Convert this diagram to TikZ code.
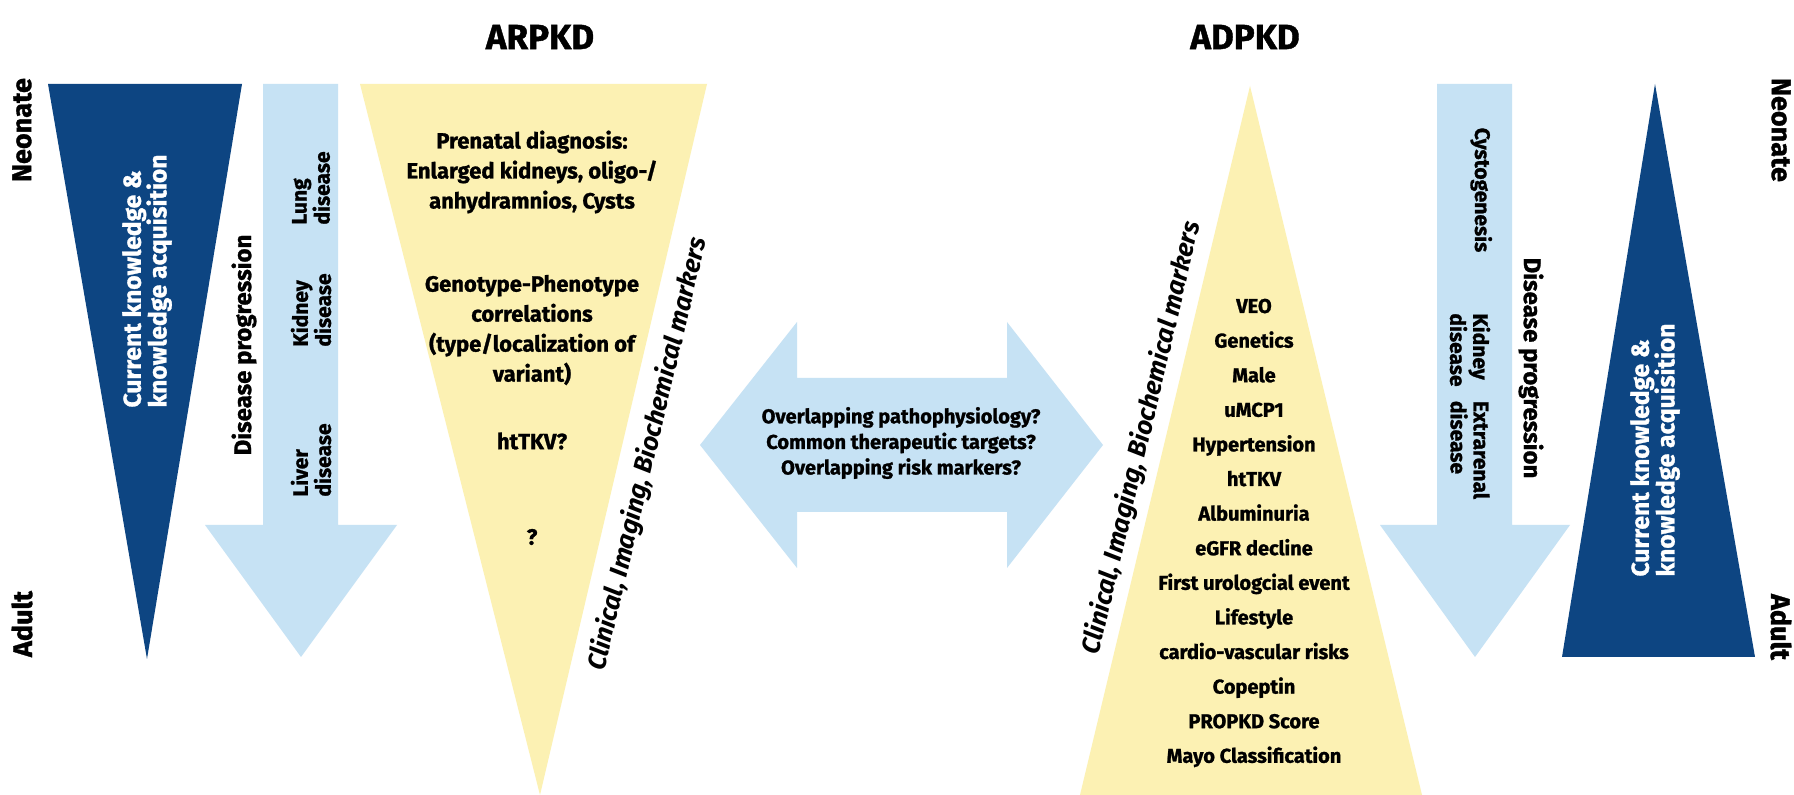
\documentclass[tikz,border=0pt]{standalone}
\usepackage{fontspec}
\setmainfont{Fira Sans}[BoldFeatures={FakeBold=1.2}]
\definecolor{navy}{RGB}{13,69,130}
\definecolor{lblue}{RGB}{198,226,244}
\definecolor{pyellow}{RGB}{252,241,179}
\tikzset{
  txt/.style={inner sep=0pt, font=\bfseries\fontsize{11}{15}\selectfont, align=center},
  listtxt/.style={inner sep=0pt, font=\bfseries\fontsize{10}{17.3}\selectfont, align=center},
  midtxt/.style={inner sep=0pt, font=\bfseries\fontsize{10}{12.8}\selectfont, align=center},
  vlabel/.style={inner sep=0pt, font=\bfseries\fontsize{13.5}{14}\selectfont},
  prog/.style={inner sep=0pt, font=\bfseries\fontsize{12}{13}\selectfont},
  title/.style={inner sep=0pt, font=\bfseries\fontsize{17.5}{18}\selectfont},
  know/.style={inner sep=0pt, text=white, font=\bfseries\fontsize{12.3}{12.8}\selectfont, align=left},
  arrtxt/.style={inner sep=0pt, font=\bfseries\fontsize{10.5}{11.5}\selectfont, align=left},
  clin/.style={inner sep=0pt, font=\bfseries\itshape\fontsize{12.8}{13}\selectfont},
}
\begin{document}
\begin{tikzpicture}[x=0.5pt,y=-0.5pt]
\path[use as bounding box, fill=white] (0,0) rectangle (1794,795);
% titles
\node[title] (tARPKD) at (540,37) {ARPKD};
\node[title] (tADPKD) at (1245,37) {ADPKD};
% left side
\node[vlabel, rotate=90] (neoL) at (22,130) {Neonate};
\node[vlabel, rotate=90] (adL) at (22,624) {Adult};
\fill[navy] (48,84) -- (242,84) -- (147,659) -- cycle;
\node[know, rotate=90] (knowL) at (147,281) {Current knowledge \&\\knowledge acquisition};
\fill[lblue] (263,84) -- (338,84) -- (338,525) -- (397,525) -- (301,657) -- (205,525) -- (263,525) -- cycle;
\node[prog, rotate=90] (dpL) at (244,345) {Disease progression};
\node[arrtxt, rotate=90] (lung) at (311,188) {Lung\\disease};
\node[arrtxt, rotate=90] (kidL) at (311,310) {Kidney\\disease};
\node[arrtxt, rotate=90] (liver) at (311,460) {Liver\\disease};
% ARPKD triangle
\fill[pyellow] (360,84) -- (707,84) -- (540,795) -- cycle;
\node[txt] (pre) at (532,172) {Prenatal diagnosis:\\Enlarged kidneys, oligo-/\\anhydramnios, Cysts};
\node[txt] (geno) at (532,330) {Genotype-Phenotype\\correlations\\(type/localization of\\variant)};
\node[txt] (httkvq) at (532,441) {htTKV?};
\node[txt] (qm) at (532,537) {?};
\node[clin, rotate=76.7] (clinL) at (648,454) {Clinical, Imaging, Biochemical markers};
% double arrow
\fill[lblue] (700,445) -- (797,322) -- (797,378) -- (1007,378) -- (1007,322) -- (1103,445) -- (1007,568) -- (1007,512) -- (797,512) -- (797,568) -- cycle;
\node[midtxt] (mid) at (901,443) {Overlapping pathophysiology?\\Common therapeutic targets?\\Overlapping risk markers?};
% ADPKD triangle
\fill[pyellow] (1250,86) -- (1422,795) -- (1080,795) -- cycle;
\node[listtxt] (list) at (1254,533) {VEO\\Genetics\\Male\\uMCP1\\Hypertension\\htTKV\\Albuminuria\\eGFR decline\\First urologcial event\\Lifestyle\\cardio-vascular risks\\Copeptin\\PROPKD Score\\Mayo Classification};
\node[clin, rotate=76.8] (clinR) at (1142,438) {Clinical, Imaging, Biochemical markers};
% right side
\fill[lblue] (1437,84) -- (1512,84) -- (1512,525) -- (1570,525) -- (1475,657) -- (1380,525) -- (1437,525) -- cycle;
\node[prog, rotate=-90] (dpR) at (1531,368) {Disease progression};
\node[arrtxt, rotate=-90, anchor=south] (cyst) at (1470,190) {Cystogenesis};
\node[arrtxt, rotate=-90] (kidR) at (1470,350) {Kidney\\disease};
\node[arrtxt, rotate=-90] (extra) at (1470,450) {Extrarenal\\disease};
\fill[navy] (1655,84) -- (1755,657) -- (1562,657) -- cycle;
\node[know, rotate=90] (knowR) at (1655,450) {Current knowledge \&\\knowledge acquisition};
\node[vlabel, rotate=-90] (neoR) at (1781,130) {Neonate};
\node[vlabel, rotate=-90] (adR) at (1781,627) {Adult};
\end{tikzpicture}
\end{document}
